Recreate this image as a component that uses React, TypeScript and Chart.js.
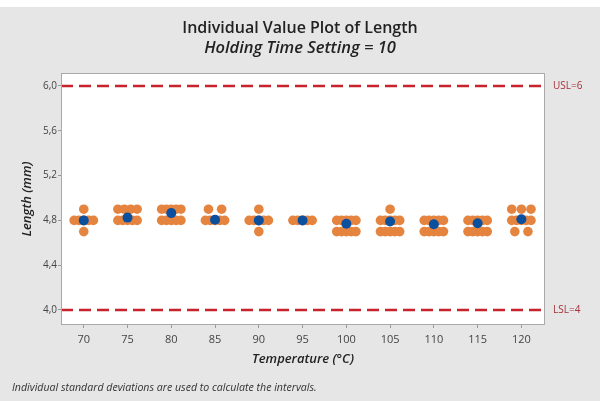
import React, { useEffect, useRef } from 'react';
import { Chart, registerables } from 'chart.js';

Chart.register(...registerables);

// ---- data ----
const temperatures = [70, 75, 80, 85, 90, 95, 100, 105, 110, 115, 120];
const lengthLevels = [4.7, 4.8, 4.9];
// number of observations at each length level, per temperature
const countsAt47 = [1, 0, 0, 0, 1, 0, 5, 5, 5, 5, 2];
const countsAt48 = [5, 5, 5, 5, 5, 5, 5, 5, 5, 5, 5];
const countsAt49 = [1, 4, 5, 2, 1, 0, 0, 1, 0, 0, 3];
const meanLengths = [4.8, 4.825, 4.865, 4.805, 4.8, 4.8, 4.77, 4.79, 4.765, 4.775, 4.81];
const usl = 6;
const lsl = 4;
const yTickValues = [4.0, 4.4, 4.8, 5.2, 5.6, 6.0];
const titleText = 'Individual Value Plot of Length';
const subtitleText = 'Holding Time Setting = 10';
const xTitle = 'Temperature (°C)';
const yTitle = 'Length (mm)';
const footnote = 'Individual standard deviations are used to calculate the intervals.';

const FONT = "'Open Sans', 'Noto Sans', sans-serif";
const X_MIN = 67.4;
const X_MAX = 122.7;
const Y_MIN = 3.866;
const Y_MAX = 6.116;

export default function App() {
  const ref = useRef<HTMLCanvasElement>(null);

  useEffect(() => {
    document.body.style.margin = '0';
    const canvas = ref.current;
    if (!canvas) return;

    const countTable = [countsAt47, countsAt48, countsAt49];
    const points: { x: number; y: number }[] = [];
    temperatures.forEach((t, gi) => {
      lengthLevels.forEach((lv, li) => {
        const n = countTable[li][gi];
        const step = n > 1 ? Math.min(1.5, 2.2 / (n - 1)) : 0;
        for (let i = 0; i < n; i++) {
          points.push({ x: t + (i - (n - 1) / 2) * step, y: lv });
        }
      });
    });
    const means = temperatures.map((t, i) => ({ x: t, y: meanLengths[i] }));

    const bgPlugin = {
      id: 'bg',
      beforeDraw(chart: any) {
        const { ctx, chartArea: a, width, height } = chart;
        ctx.save();
        ctx.fillStyle = '#ffffff';
        ctx.fillRect(0, 0, width, height);
        ctx.fillStyle = '#e6e6e6';
        ctx.fillRect(0, 7, width, height - 7);
        ctx.fillStyle = '#ffffff';
        ctx.fillRect(a.left, a.top, a.right - a.left, a.bottom - a.top);
        ctx.restore();
      },
      afterDraw(chart: any) {
        const { ctx, chartArea: a, scales } = chart;
        ctx.save();
        ctx.strokeStyle = '#a9a9a9';
        ctx.lineWidth = 1;
        ctx.strokeRect(a.left + 0.5, a.top + 0.5, a.right - a.left - 1, a.bottom - a.top - 1);
        // spec limit labels
        ctx.fillStyle = '#a8303b';
        ctx.font = `10px ${FONT}`;
        ctx.textBaseline = 'middle';
        ctx.textAlign = 'left';
        ctx.fillText(`USL=${usl}`, a.right + 8, scales.y.getPixelForValue(usl));
        ctx.fillText(`LSL=${lsl}`, a.right + 8, scales.y.getPixelForValue(lsl));
        // footnote
        ctx.fillStyle = '#333333';
        ctx.font = `italic 10.6px ${FONT}`;
        ctx.fillText(footnote, 12, 388);
        ctx.restore();
      },
    };

    const chart = new Chart(canvas, {
      type: 'scatter',
      data: {
        datasets: [
          {
            type: 'line',
            data: [{ x: X_MIN, y: usl }, { x: X_MAX, y: usl }],
            borderColor: '#c8232c',
            borderWidth: 2.5,
            borderDash: [12, 6],
            pointRadius: 0,
            order: 3,
          } as any,
          {
            type: 'line',
            data: [{ x: X_MIN, y: lsl }, { x: X_MAX, y: lsl }],
            borderColor: '#c8232c',
            borderWidth: 2.5,
            borderDash: [12, 6],
            pointRadius: 0,
            order: 3,
          } as any,
          {
            data: points,
            backgroundColor: '#e5843f',
            borderWidth: 0,
            pointRadius: 4.8,
            order: 2,
          },
          {
            data: means,
            backgroundColor: '#0b4f9f',
            borderWidth: 0,
            pointRadius: 5,
            order: 1,
          },
        ],
      },
      options: {
        animation: false,
        responsive: false,
        layout: { padding: { left: 0, right: 0, top: 0, bottom: 0 } },
        plugins: {
          legend: { display: false },
          tooltip: { enabled: false },
          title: {
            display: true,
            text: titleText,
            color: '#222222',
            font: { family: FONT, size: 16, weight: '600', lineHeight: '18px' } as any,
            padding: { top: 19, bottom: 0 },
          },
          subtitle: {
            display: true,
            text: subtitleText,
            color: '#222222',
            font: { family: FONT, size: 16.5, weight: '600', style: 'italic', lineHeight: '18px' } as any,
            padding: { top: 2, bottom: 16 },
          },
        },
        scales: {
          x: {
            type: 'linear',
            min: X_MIN,
            max: X_MAX,
            afterBuildTicks: (scale: any) => {
              scale.ticks = temperatures.map((v) => ({ value: v }));
            },
            afterFit: (scale: any) => {
              scale.height = 76;
            },
            ticks: {
              callback: (v: any) => String(v),
              color: '#444444',
              font: { family: FONT, size: 11 },
              padding: 5,
              maxRotation: 0,
              autoSkip: false,
            },
            grid: { drawOnChartArea: false, drawTicks: true, tickLength: 3, color: '#999999' },
            border: { display: false },
            title: {
              display: true,
              text: xTitle,
              color: '#222222',
              font: { family: FONT, size: 13, weight: '600', style: 'italic' },
              padding: { top: 0, bottom: 34 },
            },
          },
          y: {
            type: 'linear',
            position: 'left',
            min: Y_MIN,
            max: Y_MAX,
            afterBuildTicks: (scale: any) => {
              scale.ticks = yTickValues.map((v) => ({ value: v }));
            },
            afterFit: (scale: any) => {
              scale.width = 61;
            },
            ticks: {
              callback: (v: any) => Number(v).toFixed(1).replace('.', ','),
              color: '#444444',
              font: { family: FONT, size: 10 },
              padding: 1,
            },
            grid: { drawOnChartArea: false, drawTicks: true, tickLength: 3, color: '#999999' },
            border: { display: false },
            title: {
              display: true,
              text: yTitle,
              color: '#222222',
              font: { family: FONT, size: 13, weight: '600', style: 'italic' },
              padding: { top: 19, bottom: 0 },
            },
          },
          yRight: {
            type: 'linear',
            position: 'right',
            min: Y_MIN,
            max: Y_MAX,
            afterFit: (scale: any) => {
              scale.width = 55;
            },
            ticks: { display: false },
            grid: { display: false },
            border: { display: false },
          },
        },
      },
      plugins: [bgPlugin],
    });

    return () => chart.destroy();
  }, []);

  return (
    <div style={{ width: 600, height: 401 }}>
      <canvas ref={ref} width={600} height={401} style={{ display: 'block' }} />
    </div>
  );
}
